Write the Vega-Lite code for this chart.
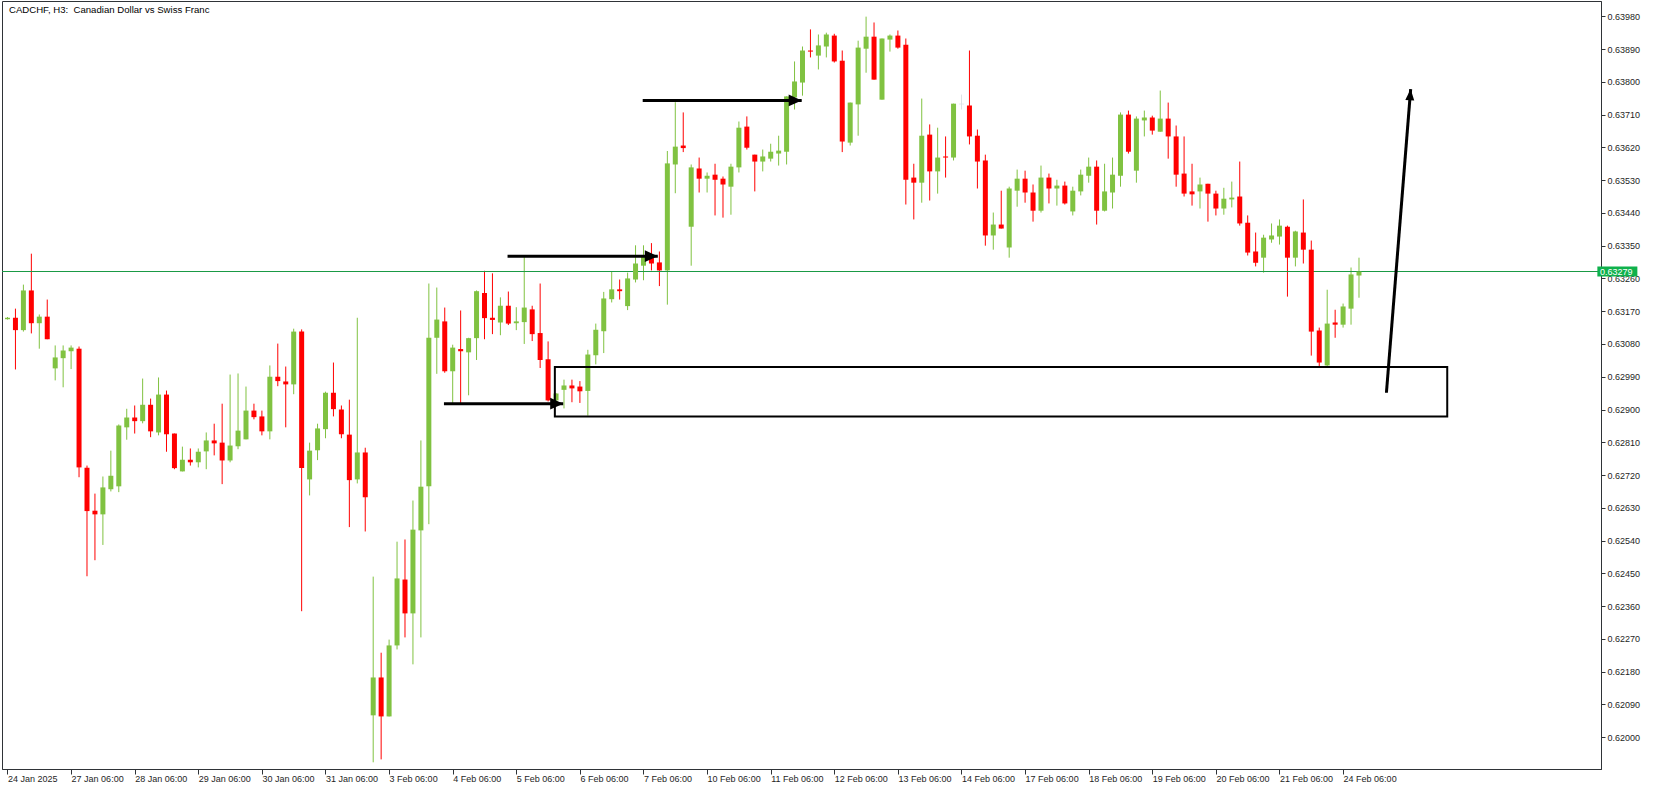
{
  "$schema": "https://vega.github.io/schema/vega-lite/v6.json",
  "width": 1599,
  "height": 768,
  "autosize": {"type": "none"},
  "padding": {"left": 2, "top": 1, "right": 52, "bottom": 21},
  "background": "#ffffff",
  "config": {
    "view": {"stroke": "#2f3337", "strokeWidth": 1},
    "font": "Liberation Sans",
    "axis": {"labelFont": "Liberation Sans", "labelFontSize": 9, "labelColor": "#1e1e1e", "domainColor": "#2f3337", "tickColor": "#2f3337", "grid": false, "labelOverlap": false, "labelFlush": false}
  },
  "resolve": {"axis": {"x": "independent", "y": "independent"}},
  "datasets": {
    "candles": [
      {"i":0,"o":0.63148,"h":0.63154,"l":0.63147,"c":0.63152},
      {"i":1,"o":0.63152,"h":0.63177,"l":0.63010,"c":0.63118},
      {"i":2,"o":0.63118,"h":0.63243,"l":0.63114,"c":0.63227},
      {"i":3,"o":0.63227,"h":0.63328,"l":0.63109,"c":0.63137},
      {"i":4,"o":0.63137,"h":0.63161,"l":0.63067,"c":0.63155},
      {"i":5,"o":0.63155,"h":0.63202,"l":0.63093,"c":0.63093},
      {"i":6,"o":0.63013,"h":0.63076,"l":0.62980,"c":0.63043},
      {"i":7,"o":0.63041,"h":0.63076,"l":0.62961,"c":0.63062},
      {"i":8,"o":0.63060,"h":0.63076,"l":0.63011,"c":0.63070},
      {"i":9,"o":0.63067,"h":0.63073,"l":0.62714,"c":0.62741},
      {"i":10,"o":0.62740,"h":0.62746,"l":0.62442,"c":0.62621},
      {"i":11,"o":0.62622,"h":0.62669,"l":0.62486,"c":0.62612},
      {"i":12,"o":0.62612,"h":0.62716,"l":0.62528,"c":0.62686},
      {"i":13,"o":0.62681,"h":0.62787,"l":0.62675,"c":0.62718},
      {"i":14,"o":0.62689,"h":0.62859,"l":0.62673,"c":0.62856},
      {"i":15,"o":0.62851,"h":0.62902,"l":0.62817,"c":0.62878},
      {"i":16,"o":0.62878,"h":0.62911,"l":0.62834,"c":0.62868},
      {"i":17,"o":0.62868,"h":0.62985,"l":0.62862,"c":0.62913},
      {"i":18,"o":0.62913,"h":0.62930,"l":0.62824,"c":0.62840},
      {"i":19,"o":0.62837,"h":0.62988,"l":0.62829,"c":0.62941},
      {"i":20,"o":0.62941,"h":0.62952,"l":0.62784,"c":0.62832},
      {"i":21,"o":0.62834,"h":0.62834,"l":0.62736,"c":0.62739},
      {"i":22,"o":0.62730,"h":0.62798,"l":0.62730,"c":0.62762},
      {"i":23,"o":0.62762,"h":0.62793,"l":0.62746,"c":0.62755},
      {"i":24,"o":0.62755,"h":0.62793,"l":0.62741,"c":0.62784},
      {"i":25,"o":0.62785,"h":0.62837,"l":0.62736,"c":0.62815},
      {"i":26,"o":0.62815,"h":0.62861,"l":0.62774,"c":0.62807},
      {"i":27,"o":0.62809,"h":0.62916,"l":0.62695,"c":0.62760},
      {"i":28,"o":0.62760,"h":0.62996,"l":0.62755,"c":0.62801},
      {"i":29,"o":0.62799,"h":0.62999,"l":0.62791,"c":0.62842},
      {"i":30,"o":0.62818,"h":0.62963,"l":0.62818,"c":0.62897},
      {"i":31,"o":0.62897,"h":0.62916,"l":0.62873,"c":0.62879},
      {"i":32,"o":0.62881,"h":0.62897,"l":0.62829,"c":0.62840},
      {"i":33,"o":0.62840,"h":0.63021,"l":0.62818,"c":0.62990},
      {"i":34,"o":0.62990,"h":0.63081,"l":0.62964,"c":0.62978},
      {"i":35,"o":0.62977,"h":0.63018,"l":0.62851,"c":0.62969},
      {"i":36,"o":0.62969,"h":0.63122,"l":0.62942,"c":0.63114},
      {"i":37,"o":0.63114,"h":0.63120,"l":0.62346,"c":0.62739},
      {"i":38,"o":0.62708,"h":0.62809,"l":0.62664,"c":0.62787},
      {"i":39,"o":0.62788,"h":0.62861,"l":0.62761,"c":0.62848},
      {"i":40,"o":0.62846,"h":0.62949,"l":0.62821,"c":0.62946},
      {"i":41,"o":0.62946,"h":0.63029,"l":0.62881,"c":0.62901},
      {"i":42,"o":0.62900,"h":0.62911,"l":0.62821,"c":0.62832},
      {"i":43,"o":0.62831,"h":0.62927,"l":0.62577,"c":0.62706},
      {"i":44,"o":0.62708,"h":0.63152,"l":0.62697,"c":0.62782},
      {"i":45,"o":0.62782,"h":0.62795,"l":0.62565,"c":0.62659},
      {"i":46,"o":0.62060,"h":0.62441,"l":0.61931,"c":0.62164},
      {"i":47,"o":0.62164,"h":0.62232,"l":0.61939,"c":0.62057},
      {"i":48,"o":0.62057,"h":0.62268,"l":0.62057,"c":0.62252},
      {"i":49,"o":0.62252,"h":0.62537,"l":0.62241,"c":0.62436},
      {"i":50,"o":0.62433,"h":0.62543,"l":0.62274,"c":0.62340},
      {"i":51,"o":0.62340,"h":0.62650,"l":0.62200,"c":0.62570},
      {"i":52,"o":0.62568,"h":0.62815,"l":0.62274,"c":0.62688},
      {"i":53,"o":0.62689,"h":0.63246,"l":0.62585,"c":0.63097},
      {"i":54,"o":0.63097,"h":0.63235,"l":0.62998,"c":0.63147},
      {"i":55,"o":0.63142,"h":0.63180,"l":0.63001,"c":0.63005},
      {"i":56,"o":0.63005,"h":0.63078,"l":0.62916,"c":0.63070},
      {"i":57,"o":0.63066,"h":0.63172,"l":0.62916,"c":0.63060},
      {"i":58,"o":0.63057,"h":0.63097,"l":0.62939,"c":0.63096},
      {"i":59,"o":0.63096,"h":0.63227,"l":0.63036,"c":0.63225},
      {"i":60,"o":0.63220,"h":0.63281,"l":0.63093,"c":0.63151},
      {"i":61,"o":0.63152,"h":0.63274,"l":0.63107,"c":0.63146},
      {"i":62,"o":0.63139,"h":0.63208,"l":0.63104,"c":0.63185},
      {"i":63,"o":0.63185,"h":0.63224,"l":0.63132,"c":0.63136},
      {"i":64,"o":0.63137,"h":0.63181,"l":0.63118,"c":0.63142},
      {"i":65,"o":0.63140,"h":0.63320,"l":0.63080,"c":0.63180},
      {"i":66,"o":0.63175,"h":0.63185,"l":0.63088,"c":0.63107},
      {"i":67,"o":0.63110,"h":0.63246,"l":0.63014,"c":0.63036},
      {"i":68,"o":0.63038,"h":0.63087,"l":0.62922,"c":0.62925},
      {"i":69,"o":0.62925,"h":0.62945,"l":0.62913,"c":0.62944},
      {"i":70,"o":0.62954,"h":0.62982,"l":0.62903,"c":0.62966},
      {"i":71,"o":0.62966,"h":0.62982,"l":0.62920,"c":0.62958},
      {"i":72,"o":0.62963,"h":0.62978,"l":0.62918,"c":0.62950},
      {"i":73,"o":0.62951,"h":0.63064,"l":0.62883,"c":0.63051},
      {"i":74,"o":0.63049,"h":0.63136,"l":0.63024,"c":0.63119},
      {"i":75,"o":0.63115,"h":0.63223,"l":0.63055,"c":0.63205},
      {"i":76,"o":0.63203,"h":0.63280,"l":0.63194,"c":0.63230},
      {"i":77,"o":0.63230,"h":0.63257,"l":0.63202,"c":0.63225},
      {"i":78,"o":0.63184,"h":0.63276,"l":0.63173,"c":0.63260},
      {"i":79,"o":0.63257,"h":0.63351,"l":0.63249,"c":0.63301},
      {"i":80,"o":0.63295,"h":0.63351,"l":0.63255,"c":0.63323},
      {"i":81,"o":0.63323,"h":0.63357,"l":0.63282,"c":0.63301},
      {"i":82,"o":0.63304,"h":0.63334,"l":0.63239,"c":0.63282},
      {"i":83,"o":0.63282,"h":0.63610,"l":0.63188,"c":0.63576},
      {"i":84,"o":0.63573,"h":0.63744,"l":0.63494,"c":0.63622},
      {"i":85,"o":0.63625,"h":0.63716,"l":0.63607,"c":0.63618},
      {"i":86,"o":0.63402,"h":0.63573,"l":0.63295,"c":0.63565},
      {"i":87,"o":0.63562,"h":0.63592,"l":0.63496,"c":0.63534},
      {"i":88,"o":0.63534,"h":0.63551,"l":0.63496,"c":0.63542},
      {"i":89,"o":0.63545,"h":0.63575,"l":0.63433,"c":0.63531},
      {"i":90,"o":0.63534,"h":0.63540,"l":0.63427,"c":0.63518},
      {"i":91,"o":0.63512,"h":0.63575,"l":0.63435,"c":0.63567},
      {"i":92,"o":0.63565,"h":0.63691,"l":0.63551,"c":0.63674},
      {"i":93,"o":0.63677,"h":0.63705,"l":0.63614,"c":0.63619},
      {"i":94,"o":0.63600,"h":0.63600,"l":0.63499,"c":0.63581},
      {"i":95,"o":0.63581,"h":0.63614,"l":0.63554,"c":0.63595},
      {"i":96,"o":0.63589,"h":0.63630,"l":0.63581,"c":0.63608},
      {"i":97,"o":0.63603,"h":0.63652,"l":0.63570,"c":0.63611},
      {"i":98,"o":0.63608,"h":0.63760,"l":0.63573,"c":0.63760},
      {"i":99,"o":0.63757,"h":0.63856,"l":0.63724,"c":0.63801},
      {"i":100,"o":0.63798,"h":0.63897,"l":0.63762,"c":0.63886},
      {"i":101,"o":0.63886,"h":0.63944,"l":0.63867,"c":0.63883},
      {"i":102,"o":0.63872,"h":0.63930,"l":0.63834,"c":0.63900},
      {"i":103,"o":0.63897,"h":0.63935,"l":0.63867,"c":0.63930},
      {"i":104,"o":0.63927,"h":0.63932,"l":0.63853,"c":0.63856},
      {"i":105,"o":0.63858,"h":0.63886,"l":0.63607,"c":0.63636},
      {"i":106,"o":0.63633,"h":0.63743,"l":0.63625,"c":0.63743},
      {"i":107,"o":0.63738,"h":0.63913,"l":0.63652,"c":0.63894},
      {"i":108,"o":0.63891,"h":0.63979,"l":0.63825,"c":0.63924},
      {"i":109,"o":0.63924,"h":0.63963,"l":0.63806,"c":0.63806},
      {"i":110,"o":0.63751,"h":0.63919,"l":0.63751,"c":0.63919},
      {"i":111,"o":0.63916,"h":0.63930,"l":0.63883,"c":0.63927},
      {"i":112,"o":0.63927,"h":0.63941,"l":0.63891,"c":0.63894},
      {"i":113,"o":0.63902,"h":0.63919,"l":0.63463,"c":0.63531},
      {"i":114,"o":0.63537,"h":0.63575,"l":0.63422,"c":0.63523},
      {"i":115,"o":0.63523,"h":0.63754,"l":0.63468,"c":0.63652},
      {"i":116,"o":0.63655,"h":0.63683,"l":0.63474,"c":0.63554},
      {"i":117,"o":0.63554,"h":0.63674,"l":0.63493,"c":0.63592},
      {"i":118,"o":0.63595,"h":0.63650,"l":0.63537,"c":0.63592},
      {"i":119,"o":0.63592,"h":0.63740,"l":0.63584,"c":0.63740},
      {"i":120,"o":0.63739,"h":0.63765,"l":0.63724,"c":0.63739},
      {"i":121,"o":0.63735,"h":0.63886,"l":0.63628,"c":0.63650},
      {"i":122,"o":0.63652,"h":0.63669,"l":0.63507,"c":0.63581},
      {"i":123,"o":0.63584,"h":0.63600,"l":0.63350,"c":0.63378},
      {"i":124,"o":0.63378,"h":0.63441,"l":0.63339,"c":0.63408},
      {"i":125,"o":0.63408,"h":0.63501,"l":0.63397,"c":0.63397},
      {"i":126,"o":0.63345,"h":0.63512,"l":0.63317,"c":0.63507},
      {"i":127,"o":0.63501,"h":0.63559,"l":0.63457,"c":0.63534},
      {"i":128,"o":0.63534,"h":0.63556,"l":0.63468,"c":0.63496},
      {"i":129,"o":0.63496,"h":0.63518,"l":0.63416,"c":0.63446},
      {"i":130,"o":0.63446,"h":0.63570,"l":0.63441,"c":0.63537},
      {"i":131,"o":0.63537,"h":0.63548,"l":0.63466,"c":0.63507},
      {"i":132,"o":0.63507,"h":0.63531,"l":0.63460,"c":0.63515},
      {"i":133,"o":0.63515,"h":0.63526,"l":0.63463,"c":0.63466},
      {"i":134,"o":0.63444,"h":0.63512,"l":0.63433,"c":0.63501},
      {"i":135,"o":0.63499,"h":0.63559,"l":0.63488,"c":0.63545},
      {"i":136,"o":0.63542,"h":0.63592,"l":0.63523,"c":0.63567},
      {"i":137,"o":0.63567,"h":0.63584,"l":0.63408,"c":0.63446},
      {"i":138,"o":0.63446,"h":0.63575,"l":0.63444,"c":0.63499},
      {"i":139,"o":0.63496,"h":0.63592,"l":0.63452,"c":0.63545},
      {"i":140,"o":0.63542,"h":0.63716,"l":0.63512,"c":0.63710},
      {"i":141,"o":0.63710,"h":0.63721,"l":0.63603,"c":0.63608},
      {"i":142,"o":0.63556,"h":0.63705,"l":0.63523,"c":0.63699},
      {"i":143,"o":0.63694,"h":0.63721,"l":0.63650,"c":0.63702},
      {"i":144,"o":0.63702,"h":0.63707,"l":0.63655,"c":0.63666},
      {"i":145,"o":0.63663,"h":0.63776,"l":0.63663,"c":0.63699},
      {"i":146,"o":0.63699,"h":0.63743,"l":0.63589,"c":0.63650},
      {"i":147,"o":0.63650,"h":0.63680,"l":0.63512,"c":0.63545},
      {"i":148,"o":0.63548,"h":0.63650,"l":0.63485,"c":0.63493},
      {"i":149,"o":0.63499,"h":0.63575,"l":0.63460,"c":0.63491},
      {"i":150,"o":0.63499,"h":0.63537,"l":0.63452,"c":0.63518},
      {"i":151,"o":0.63520,"h":0.63520,"l":0.63416,"c":0.63493},
      {"i":152,"o":0.63493,"h":0.63501,"l":0.63433,"c":0.63452},
      {"i":153,"o":0.63452,"h":0.63509,"l":0.63435,"c":0.63479},
      {"i":154,"o":0.63477,"h":0.63526,"l":0.63455,"c":0.63482},
      {"i":155,"o":0.63485,"h":0.63581,"l":0.63405,"c":0.63411},
      {"i":156,"o":0.63413,"h":0.63433,"l":0.63323,"c":0.63331},
      {"i":157,"o":0.63334,"h":0.63386,"l":0.63293,"c":0.63303},
      {"i":158,"o":0.63317,"h":0.63380,"l":0.63276,"c":0.63372},
      {"i":159,"o":0.63367,"h":0.63411,"l":0.63358,"c":0.63378},
      {"i":160,"o":0.63375,"h":0.63422,"l":0.63353,"c":0.63405},
      {"i":161,"o":0.63402,"h":0.63405,"l":0.63210,"c":0.63317},
      {"i":162,"o":0.63317,"h":0.63391,"l":0.63293,"c":0.63389},
      {"i":163,"o":0.63386,"h":0.63477,"l":0.63301,"c":0.63339},
      {"i":164,"o":0.63339,"h":0.63364,"l":0.63048,"c":0.63114},
      {"i":165,"o":0.63117,"h":0.63125,"l":0.63018,"c":0.63029},
      {"i":166,"o":0.63021,"h":0.63229,"l":0.63018,"c":0.63136},
      {"i":167,"o":0.63139,"h":0.63174,"l":0.63097,"c":0.63133},
      {"i":168,"o":0.63133,"h":0.63191,"l":0.63125,"c":0.63183},
      {"i":169,"o":0.63177,"h":0.63290,"l":0.63133,"c":0.63271},
      {"i":170,"o":0.63268,"h":0.63317,"l":0.63207,"c":0.63279}
    ],
    "arrows": [
      {"x1":54.9,"p1":0.62916,"x2":69.9,"p2":0.62916,"k":"h"},
      {"x1":62.9,"p1":0.63321,"x2":81.8,"p2":0.63321,"k":"h"},
      {"x1":79.9,"p1":0.63749,"x2":99.9,"p2":0.63749,"k":"h"},
      {"x1":173.45,"p1":0.62946,"x2":176.5,"p2":0.6378,"k":"d"}
    ],
    "zone": [
      {"x1":68.85,"x2":181.1,"p1":0.62881,"p2":0.63017}
    ],
    "last": [
      {"price": 0.63279, "tag": 202.5, "txt": 200.3, "label": "0.63279"}
    ],
    "caption": [
      {"t": "CADCHF, H3:\u00a0 Canadian Dollar vs Swiss Franc"}
    ]
  },
  "layer": [
    {
      "data": {"name": "candles"},
      "mark": {"type": "rule", "strokeWidth": 1},
      "encoding": {
        "x": {"field": "i", "type": "quantitative", "title": null,
          "scale": {"domain": [-0.0625, 199.8125], "nice": false, "zero": false},
          "axis": {"orient": "bottom", "title": null,
            "values": [0,8,16,24,32,40,48,56,64,72,80,88,96,104,112,120,128,136,144,152,160,168],
            "labelExpr": "['24 Jan 2025','27 Jan 06:00','28 Jan 06:00','29 Jan 06:00','30 Jan 06:00','31 Jan 06:00','3 Feb 06:00','4 Feb 06:00','5 Feb 06:00','6 Feb 06:00','7 Feb 06:00','10 Feb 06:00','11 Feb 06:00','12 Feb 06:00','13 Feb 06:00','14 Feb 06:00','17 Feb 06:00','18 Feb 06:00','19 Feb 06:00','20 Feb 06:00','21 Feb 06:00','24 Feb 06:00'][round(datum.value/8)]",
            "labelAlign": "left", "labelBaseline": "top", "labelPadding": 0, "labelDx": 0, "tickSize": 5,
            "labelFlush": false, "labelOverlap": false, "grid": false}},
        "y": {"field": "l", "type": "quantitative", "title": null,
          "scale": {"domain": [0.619126, 0.64022], "nice": false, "zero": false},
          "axis": {"orient": "right", "title": null,
            "values": [0.62,0.6209,0.6218,0.6227,0.6236,0.6245,0.6254,0.6263,0.6272,0.6281,0.629,0.6299,0.6308,0.6317,0.6326,0.6335,0.6344,0.6353,0.6362,0.6371,0.638,0.6389,0.6398],
            "format": ".5f", "tickSize": 4, "labelPadding": 2, "labelAlign": "left", "labelBaseline": "middle",
            "labelFlush": false, "labelOverlap": false, "grid": false}},
        "y2": {"field": "h"},
        "color": {"condition": [{"test": "datum.c > datum.o", "value": "#80c241"}, {"test": "datum.c == datum.o", "value": "#dde3e6"}], "value": "#ff0000"}
      }
    },
    {
      "data": {"name": "last"},
      "mark": {"type": "rule", "color": "#1a9a45", "strokeWidth": 1},
      "encoding": {"y": {"field": "price", "type": "quantitative", "axis": null}}
    },
    {
      "data": {"name": "candles"},
      "mark": {"type": "bar", "width": 5},
      "encoding": {
        "x": {"field": "i", "type": "quantitative", "axis": null},
        "y": {"field": "o", "type": "quantitative", "axis": null},
        "y2": {"field": "c"},
        "color": {"condition": [{"test": "datum.c > datum.o", "value": "#80c241"}, {"test": "datum.c == datum.o", "value": "#dde3e6"}], "value": "#ff0000"}
      }
    },
    {
      "data": {"name": "candles"},
      "transform": [{"filter": "datum.c == datum.o"}],
      "mark": {"type": "tick", "orient": "horizontal", "size": 5, "thickness": 1, "color": "#dde3e6"},
      "encoding": {
        "x": {"field": "i", "type": "quantitative", "axis": null},
        "y": {"field": "c", "type": "quantitative", "axis": null}
      }
    },
    {
      "data": {"name": "zone"},
      "mark": {"type": "rect", "filled": false, "stroke": "#000000", "strokeWidth": 2},
      "encoding": {
        "x": {"field": "x1", "type": "quantitative", "axis": null},
        "x2": {"field": "x2"},
        "y": {"field": "p1", "type": "quantitative", "axis": null},
        "y2": {"field": "p2"}
      }
    },
    {
      "data": {"name": "arrows"},
      "mark": {"type": "rule", "color": "#000000", "strokeWidth": 3},
      "encoding": {
        "x": {"field": "x1", "type": "quantitative", "axis": null},
        "x2": {"field": "x2"},
        "y": {"field": "p1", "type": "quantitative", "axis": null},
        "y2": {"field": "p2"}
      }
    },
    {
      "data": {"name": "arrows"},
      "transform": [{"filter": "datum.k == 'h'"}],
      "mark": {"type": "point", "filled": true, "color": "#000000", "opacity": 1, "shape": "M0,0L-1,-0.45L-1,0.45Z", "size": 676},
      "encoding": {
        "x": {"field": "x2", "type": "quantitative", "axis": null},
        "y": {"field": "p2", "type": "quantitative", "axis": null}
      }
    },
    {
      "data": {"name": "arrows"},
      "transform": [{"filter": "datum.k == 'd'"}],
      "mark": {"type": "point", "filled": true, "color": "#000000", "opacity": 1, "shape": "M0,0L-1,-0.4L-1,0.4Z", "size": 500, "angle": -85.4},
      "encoding": {
        "x": {"field": "x2", "type": "quantitative", "axis": null},
        "y": {"field": "p2", "type": "quantitative", "axis": null}
      }
    },
    {
      "data": {"name": "last"},
      "mark": {"type": "point", "filled": true, "color": "#0fb14c", "opacity": 1, "shape": "M-1,-0.25L1,-0.25L1,0.25L-1,0.25Z", "size": 1600, "clip": false},
      "encoding": {
        "x": {"field": "tag", "type": "quantitative", "axis": null},
        "y": {"field": "price", "type": "quantitative", "axis": null}
      }
    },
    {
      "data": {"name": "last"},
      "mark": {"type": "text", "color": "#ffffff", "align": "left", "baseline": "middle", "fontSize": 9, "font": "Liberation Sans", "clip": false},
      "encoding": {
        "x": {"field": "txt", "type": "quantitative", "axis": null},
        "y": {"field": "price", "type": "quantitative", "axis": null},
        "text": {"field": "label"}
      }
    },
    {
      "data": {"name": "caption"},
      "mark": {"type": "text", "color": "#000000", "align": "left", "baseline": "alphabetic", "dx": 2, "dy": 12, "fontSize": 9.6, "font": "Liberation Sans"},
      "encoding": {
        "x": {"datum": -0.0625, "type": "quantitative", "axis": null},
        "y": {"datum": 0.64022, "type": "quantitative", "axis": null},
        "text": {"field": "t"}
      }
    }
  ]
}
